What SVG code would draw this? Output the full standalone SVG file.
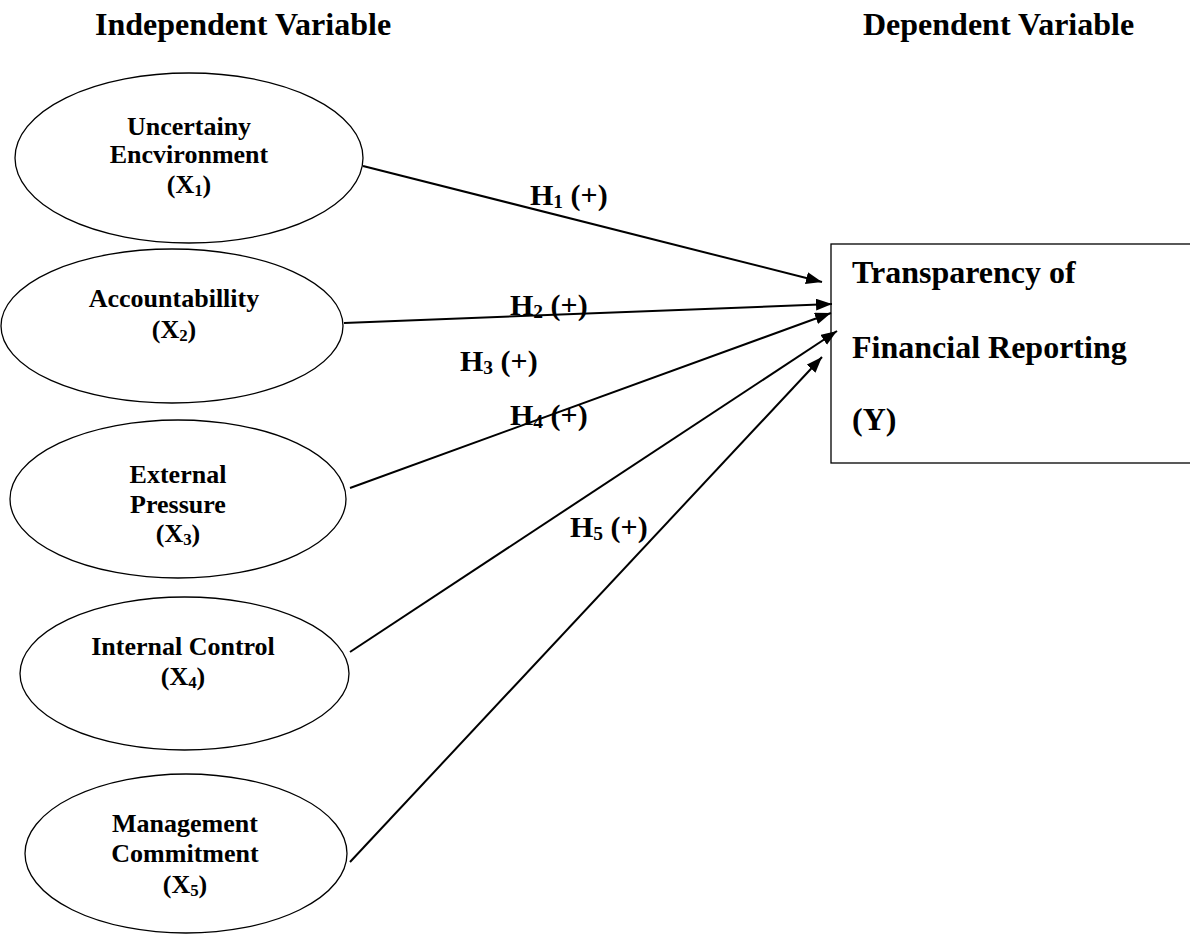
<svg xmlns="http://www.w3.org/2000/svg" width="1190" height="934" viewBox="0 0 1190 934">
<style>
  text { font-family: "Liberation Serif", "Times New Roman", serif; font-weight: bold; fill: #000; }
  .hdr { font-size: 32px; }
  .node { fill: #fff; stroke: #000; stroke-width: 1.3; }
  .el { font-size: 26px; text-anchor: middle; }
  .box { font-size: 32px; }
  .hl { font-size: 30px; }
  .edge { stroke: #000; stroke-width: 2; fill: none; marker-end: url(#arrow); }
  .sub { font-size: 65%; }
</style>
<defs>
  <marker id="arrow" markerUnits="userSpaceOnUse" markerWidth="17" markerHeight="13" refX="16" refY="6" orient="auto">
    <path d="M0,0 L16,6 L0,12 Z" fill="#000"/>
  </marker>
</defs>
<rect width="1190" height="934" fill="#fff"/>

<g id="headers">
  <text class="hdr" x="95" y="35">Independent Variable</text>
  <text class="hdr" x="863" y="35">Dependent Variable</text>
</g>

<g id="node-x1">
  <ellipse class="node" cx="189" cy="158" rx="174" ry="85"/>
  <text class="el" x="189" y="135">Uncertainy</text>
  <text class="el" x="189" y="163">Encvironment</text>
  <text class="el" x="189" y="193">(X<tspan class="sub" dy="3">1</tspan><tspan dy="-3">)</tspan></text>
</g>

<g id="node-x2">
  <ellipse class="node" cx="172" cy="326" rx="171" ry="77"/>
  <text class="el" x="174" y="307">Accountabillity</text>
  <text class="el" x="174" y="338">(X<tspan class="sub" dy="3">2</tspan><tspan dy="-3">)</tspan></text>
</g>

<g id="node-x3">
  <ellipse class="node" cx="178" cy="499" rx="168" ry="79"/>
  <text class="el" x="178" y="483">External</text>
  <text class="el" x="178" y="513">Pressure</text>
  <text class="el" x="178" y="542">(X<tspan class="sub" dy="3">3</tspan><tspan dy="-3">)</tspan></text>
</g>

<g id="node-x4">
  <ellipse class="node" cx="184.5" cy="673.5" rx="164.5" ry="76.5"/>
  <text class="el" x="183" y="655">Internal Control</text>
  <text class="el" x="183" y="685">(X<tspan class="sub" dy="3">4</tspan><tspan dy="-3">)</tspan></text>
</g>

<g id="node-x5">
  <ellipse class="node" cx="186" cy="853.5" rx="161" ry="79.5"/>
  <text class="el" x="185" y="832">Management</text>
  <text class="el" x="185" y="862">Commitment</text>
  <text class="el" x="185" y="893">(X<tspan class="sub" dy="3">5</tspan><tspan dy="-3">)</tspan></text>
</g>

<g id="node-y">
  <rect class="node" x="831" y="244" width="370" height="219"/>
  <text class="box" x="852" y="283">Transparency of</text>
  <text class="box" x="852" y="358">Financial Reporting</text>
  <text class="box" x="852" y="430">(Y)</text>
</g>

<g id="connectors">
  <line class="edge" x1="363" y1="166" x2="822" y2="282"/>
  <line class="edge" x1="344" y1="323" x2="832" y2="304"/>
  <line class="edge" x1="350" y1="488" x2="831" y2="313"/>
  <line class="edge" x1="350" y1="652" x2="837" y2="331"/>
  <line class="edge" x1="350" y1="862" x2="822" y2="357"/>
</g>

<g id="labels">
  <text class="hl" x="530" y="205">H<tspan class="sub" dy="3">1</tspan><tspan dy="-3"> (+)</tspan></text>
  <text class="hl" x="510" y="315">H<tspan class="sub" dy="3">2</tspan><tspan dy="-3"> (+)</tspan></text>
  <text class="hl" x="460" y="371">H<tspan class="sub" dy="3">3</tspan><tspan dy="-3"> (+)</tspan></text>
  <text class="hl" x="510" y="425">H<tspan class="sub" dy="3">4</tspan><tspan dy="-3"> (+)</tspan></text>
  <text class="hl" x="570" y="537">H<tspan class="sub" dy="3">5</tspan><tspan dy="-3"> (+)</tspan></text>
</g>
</svg>
